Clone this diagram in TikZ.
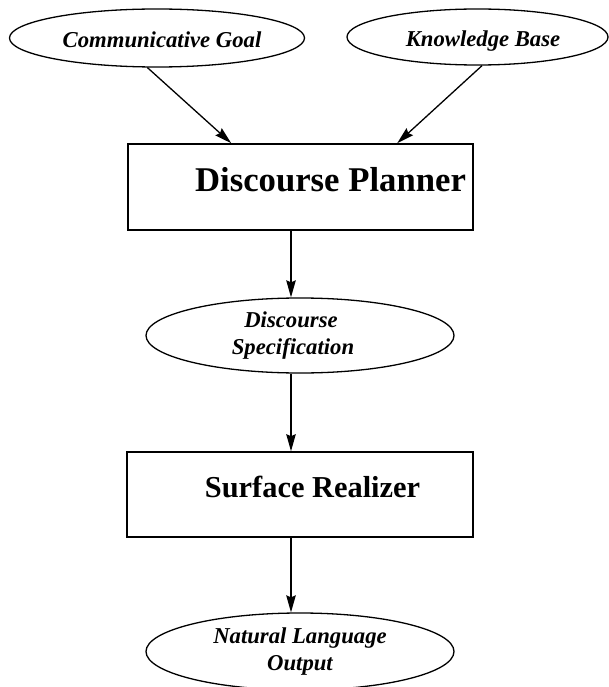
\documentclass[tikz,border=0pt]{standalone}
\usepackage{fontspec}
\setmainfont{Liberation Serif}
\usetikzlibrary{shapes.geometric,arrows.meta,calc}

\tikzset{
  source/.style={ellipse, draw, line width=1.3pt, inner sep=0pt, align=center,
    font=\fontsize{22.7}{27.5}\selectfont\bfseries\itshape},
  oneline/.style={text height=20pt, text depth=0pt},
  stagebox/.style={rectangle, draw, line width=1.6pt, inner sep=0pt},
  stagelabel/.style={anchor=base, inner sep=0pt, font=\bfseries},
  flow/.style={line width=1.3pt, -{Stealth[length=17pt,width=9.5pt,inset=2pt]}}
}

\begin{document}
\begin{tikzpicture}[x=1pt,y=-1pt]
  \useasboundingbox (0,0) rectangle (609,687);

  % inputs
  \node[source, oneline, minimum width=290pt, minimum height=58pt] (cg) at (157,38)
    {\hspace*{10pt}Communicative Goal};
  \node[source, oneline, minimum width=261pt, minimum height=56pt] (kb) at (477.5,37)
    {\hspace*{11pt}Knowledge Base};

  % discourse planner
  \node[stagebox, minimum width=345pt, minimum height=86pt] (dp) at (300.5,187) {};
  \node[stagelabel, font=\fontsize{34.7}{40}\selectfont\bfseries] (dplabel) at (330.5,191) {Discourse Planner};

  % intermediate representation
  \node[source, minimum width=308pt, minimum height=75pt] (ds) at (300,335.5)
    {Discourse\hspace*{18pt}\\Specification\hspace*{14pt}};

  % surface realizer
  \node[stagebox, minimum width=346pt, minimum height=85pt] (sr) at (300,494.5) {};
  \node[stagelabel, font=\fontsize{30.4}{36}\selectfont\bfseries] (srlabel) at (312.5,497) {Surface Realizer};

  % output
  \node[source, minimum width=308pt, minimum height=77pt] (nl) at (300,651.5) {Natural Language\\Output};

  % connectors
  \draw[flow] (cg.252.8) -- ([xshift=104pt]dp.north west);
  \draw[flow] (kb.279.1) -- ([xshift=270pt]dp.north west);
  \draw[flow] ([xshift=-9.5pt]dp.south) -- ([xshift=-9pt]ds.north);
  \draw[flow] ([xshift=-9pt]ds.south) -- ([xshift=-9pt]sr.north);
  \draw[flow] ([xshift=-9pt]sr.south) -- ([xshift=-9pt]nl.north);
\end{tikzpicture}
\end{document}
